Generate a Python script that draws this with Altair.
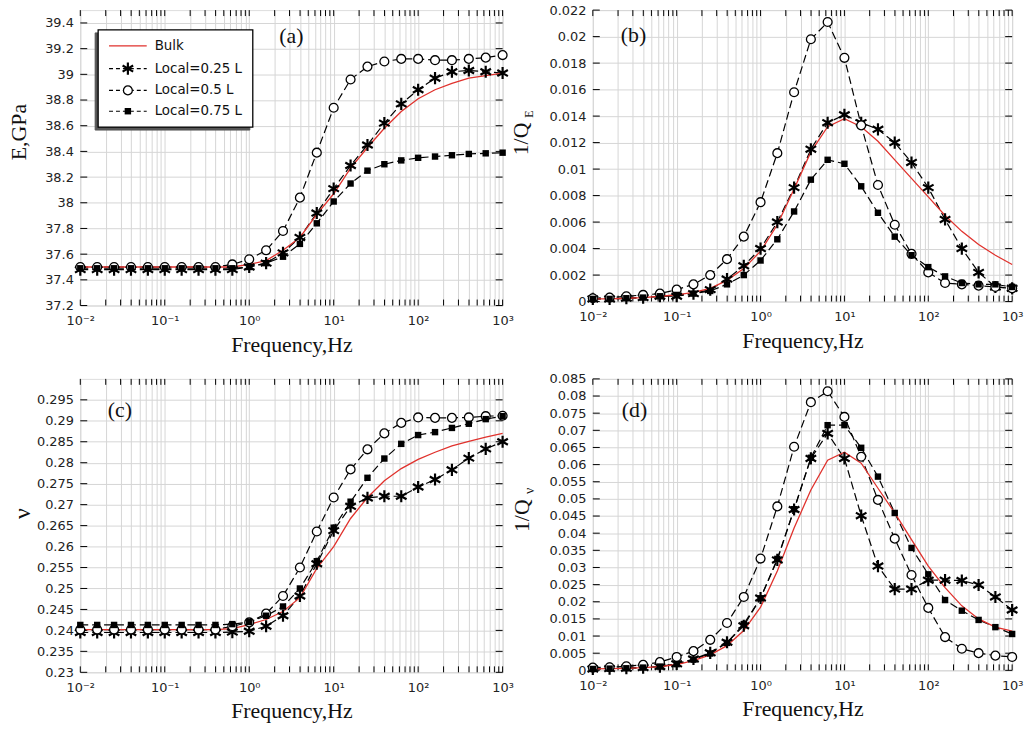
import altair as alt
import pandas as pd

FREQ = [0.01, 0.01585, 0.02512, 0.03981, 0.0631, 0.1, 0.1585, 0.2512, 0.3981, 0.631,
        1.0, 1.585, 2.512, 3.981, 6.31, 10.0, 15.85, 25.12, 39.81, 63.1,
        100.0, 158.5, 251.2, 398.1, 631.0, 1000.0]

# (a) E, GPa
E_BULK = [37.50, 37.50, 37.50, 37.50, 37.50, 37.50, 37.50, 37.50, 37.50, 37.50,
          37.52, 37.55, 37.63, 37.73, 37.91, 38.07, 38.27, 38.43, 38.58, 38.71,
          38.81, 38.88, 38.93, 38.97, 38.99, 39.01]
E_025 = [37.48, 37.48, 37.48, 37.48, 37.48, 37.48, 37.48, 37.48, 37.48, 37.48,
         37.50, 37.53, 37.61, 37.73, 37.92, 38.11, 38.29, 38.45, 38.62, 38.77,
         38.88, 38.97, 39.02, 39.03, 39.02, 39.01]
E_05 = [37.50, 37.50, 37.50, 37.50, 37.50, 37.50, 37.50, 37.50, 37.50, 37.52,
        37.56, 37.63, 37.78, 38.04, 38.39, 38.74, 38.96, 39.06, 39.10, 39.12,
        39.12, 39.11, 39.11, 39.12, 39.13, 39.15]
E_075 = [37.49, 37.49, 37.49, 37.49, 37.49, 37.49, 37.49, 37.49, 37.49, 37.49,
         37.50, 37.53, 37.58, 37.68, 37.84, 38.01, 38.15, 38.25, 38.30, 38.33,
         38.35, 38.36, 38.37, 38.38, 38.385, 38.39]

# (b) 1/Q_E
QE_BULK = [0.0002, 0.0002, 0.00025, 0.0003, 0.0004, 0.0005, 0.0007, 0.0010, 0.0016, 0.0025,
           0.0038, 0.0058, 0.0085, 0.0113, 0.0132, 0.0138, 0.0132, 0.0121, 0.0107, 0.0093,
           0.0079, 0.0065, 0.0053, 0.0043, 0.0035, 0.0028]
QE_025 = [0.0002, 0.0002, 0.00025, 0.0003, 0.0004, 0.0004, 0.0006, 0.0009, 0.0017, 0.0027,
          0.0040, 0.0060, 0.0086, 0.0115, 0.0135, 0.0141, 0.0135, 0.0130, 0.0120, 0.0105,
          0.0086, 0.0062, 0.0040, 0.0022, 0.0011, 0.0010]
QE_05 = [0.00025, 0.0003, 0.0004, 0.0005, 0.0006, 0.0009, 0.0013, 0.0020, 0.0032, 0.0049,
         0.0075, 0.0112, 0.0158, 0.0198, 0.0211, 0.0184, 0.0133, 0.0088, 0.0058, 0.0036,
         0.0022, 0.0014, 0.0013, 0.0012, 0.0011, 0.0010]
QE_075 = [0.0002, 0.0002, 0.00025, 0.0003, 0.0004, 0.0005, 0.0006, 0.0008, 0.0013, 0.0020,
          0.0031, 0.0047, 0.0068, 0.0092, 0.0107, 0.0104, 0.0087, 0.0067, 0.0049, 0.0035,
          0.0026, 0.0019, 0.0014, 0.0013, 0.0013, 0.0011]

# (c) nu
NU_BULK = [0.2402, 0.2402, 0.2402, 0.2402, 0.2402, 0.2402, 0.2402, 0.2402, 0.2402, 0.2404,
           0.2414, 0.2426, 0.2445, 0.2478, 0.2548, 0.2600, 0.2667, 0.2717, 0.2757, 0.2786,
           0.2808, 0.2825, 0.2840, 0.2851, 0.2861, 0.2870]
NU_025 = [0.2395, 0.2395, 0.2395, 0.2395, 0.2395, 0.2395, 0.2395, 0.2395, 0.2395, 0.2396,
          0.2398, 0.2410, 0.2435, 0.2482, 0.2559, 0.2638, 0.2696, 0.2716, 0.2720, 0.2720,
          0.2742, 0.2760, 0.2783, 0.2811, 0.2833, 0.2850]
NU_05 = [0.2402, 0.2402, 0.2402, 0.2402, 0.2402, 0.2402, 0.2402, 0.2402, 0.2402, 0.2410,
         0.2419, 0.2440, 0.2482, 0.2550, 0.2636, 0.2717, 0.2784, 0.2832, 0.2870, 0.2895,
         0.2908, 0.2907, 0.2907, 0.2908, 0.2911, 0.2912]
NU_075 = [0.2413, 0.2413, 0.2413, 0.2413, 0.2413, 0.2413, 0.2413, 0.2413, 0.2413, 0.2415,
          0.2420, 0.2435, 0.2457, 0.2500, 0.2565, 0.2645, 0.2707, 0.2764, 0.2810, 0.2845,
          0.2866, 0.2873, 0.2883, 0.2893, 0.2904, 0.2911]

# (d) 1/Q_nu
QV_BULK = [0.0004, 0.0005, 0.0006, 0.0008, 0.0011, 0.0017, 0.0028, 0.0045, 0.0072, 0.0116,
           0.0184, 0.0290, 0.0415, 0.0526, 0.0613, 0.0636, 0.0604, 0.0531, 0.0459, 0.0381,
           0.0304, 0.0241, 0.0188, 0.0150, 0.0126, 0.0114]
QV_025 = [0.0004, 0.0005, 0.0006, 0.0008, 0.0011, 0.0019, 0.0033, 0.0051, 0.0082, 0.0130,
          0.0211, 0.0322, 0.0469, 0.0618, 0.0691, 0.0618, 0.0451, 0.0304, 0.0237, 0.0237,
          0.0263, 0.0263, 0.0262, 0.0249, 0.0214, 0.0176]
QV_05 = [0.0008, 0.0009, 0.0012, 0.0016, 0.0024, 0.0039, 0.0056, 0.0089, 0.0138, 0.0214,
         0.0326, 0.0478, 0.0652, 0.0782, 0.0814, 0.0739, 0.0623, 0.0497, 0.0384, 0.0278,
         0.0182, 0.0097, 0.0063, 0.0050, 0.0043, 0.0039]
QV_075 = [0.0004, 0.0005, 0.0006, 0.0008, 0.0011, 0.0018, 0.0031, 0.0049, 0.0080, 0.0135,
          0.0210, 0.0325, 0.0470, 0.0620, 0.0715, 0.0715, 0.0649, 0.0565, 0.0459, 0.0357,
          0.0280, 0.0205, 0.0174, 0.0147, 0.0126, 0.0106]

SERIES = ["Bulk", "Local=0.25 L", "Local=0.5 L", "Local=0.75 L"]

YT_A = [37.2, 37.4, 37.6, 37.8, 38.0, 38.2, 38.4, 38.6, 38.8, 39.0, 39.2, 39.4]
YT_B = [0, 0.002, 0.004, 0.006, 0.008, 0.01, 0.012, 0.014, 0.016, 0.018, 0.02, 0.022]
YT_C = [0.23, 0.235, 0.24, 0.245, 0.25, 0.255, 0.26, 0.265, 0.27, 0.275, 0.28, 0.285, 0.29, 0.295]
YT_D = [0, 0.005, 0.01, 0.015, 0.02, 0.025, 0.03, 0.035, 0.04, 0.045, 0.05, 0.055,
        0.06, 0.065, 0.07, 0.075, 0.08, 0.085]

XTICKS = [m * 10.0 ** e for e in range(-2, 3) for m in range(1, 10)] + [1000.0]
X_LABEL_EXPR = ("abs(log(datum.value)/LN10 - round(log(datum.value)/LN10)) > 0.01 ? '' : "
                "['10⁻²','10⁻¹','10⁰','10¹','10²','10³'][round(log(datum.value)/LN10)+2]")

RED = "#e0312c"
STAR = "M0,-1L0,1M-0.87,-0.5L0.87,0.5M-0.87,0.5L0.87,-0.5"
SERIF = "Liberation Serif"
SANS = "DejaVu Sans"
GRID = "#d6d6d6"


def one():
    return pd.DataFrame({"a": [0]})


def text_at(txt, x, y, size=22, font=SERIF, angle=None, align="center"):
    kw = dict(font=font, fontSize=size, color="#111", align=align, baseline="middle")
    if angle is not None:
        kw["angle"] = angle
    return alt.Chart(one()).mark_text(**kw).encode(
        x=alt.value(x), y=alt.value(y), text=alt.value(txt))


def star_mark():
    return dict(shape=STAR, filled=False, color="black", strokeWidth=2.2, size=150, opacity=1)


def circle_mark():
    return dict(shape="circle", filled=True, fill="white", stroke="black", strokeWidth=1.3,
                size=80, opacity=1)


def square_mark():
    return dict(shape="square", filled=True, color="black", size=42, opacity=1)


def panel(vals, ydom, yticks, w, h, plabel, pxy, titles, legend=False):
    xs = alt.Scale(type="log", domain=[0.01, 1000], nice=False)
    ys = alt.Scale(domain=ydom, nice=False, zero=False)
    xa = alt.Axis(values=XTICKS, labelExpr=X_LABEL_EXPR, grid=True, gridColor=GRID,
                  gridWidth=1, ticks=False, domain=False, title="Frequency,Hz",
                  titleFont=SERIF, titleFontSize=22, titleFontWeight="normal",
                  titleColor="#111", titlePadding=7, labelFont=SANS, labelFontSize=13,
                  labelColor="#222", labelPadding=9, labelFlush=False, labelOverlap=False)
    ya = alt.Axis(values=yticks, format="~g", grid=True, gridColor=GRID, gridWidth=1,
                  ticks=False, domain=False, title=None, labelFont=SANS, labelFontSize=13,
                  labelColor="#222", labelPadding=7, labelFlush=False, labelOverlap=False)
    X = alt.X("f:Q", scale=xs, axis=xa)
    Y = alt.Y("v:Q", scale=ys, axis=ya)

    frames = {}
    for name, arr in zip(SERIES, vals):
        frames[name] = pd.DataFrame({"f": FREQ, "v": arr, "s": name})
    black = pd.concat([frames[n] for n in SERIES[1:]], ignore_index=True)

    layers = []
    xt = pd.DataFrame({"f": XTICKS})
    yt = pd.DataFrame({"v": yticks})
    layers.append(alt.Chart(xt).mark_rule(color="black", strokeWidth=1).encode(
        x=X, y=alt.value(0), y2=alt.value(6)))
    layers.append(alt.Chart(xt).mark_rule(color="black", strokeWidth=1).encode(
        x=X, y=alt.value(h), y2=alt.value(h - 6)))
    layers.append(alt.Chart(yt).mark_rule(color="black", strokeWidth=1).encode(
        y=Y, x=alt.value(0), x2=alt.value(7)))
    layers.append(alt.Chart(yt).mark_rule(color="black", strokeWidth=1).encode(
        y=Y, x=alt.value(w), x2=alt.value(w - 7)))

    layers.append(alt.Chart(black).mark_line(color="black", strokeDash=[8, 4],
                                             strokeWidth=1.2).encode(x=X, y=Y, detail="s:N"))
    layers.append(alt.Chart(frames["Bulk"]).mark_line(color=RED, strokeWidth=1.3).encode(x=X, y=Y))
    layers.append(alt.Chart(frames[SERIES[1]]).mark_point(**star_mark()).encode(x=X, y=Y))
    layers.append(alt.Chart(frames[SERIES[2]]).mark_point(**circle_mark()).encode(x=X, y=Y))
    layers.append(alt.Chart(frames[SERIES[3]]).mark_point(**square_mark()).encode(x=X, y=Y))

    layers.append(text_at(plabel, pxy[0], pxy[1]))
    for (txt, tx, ty, sz) in titles:
        layers.append(text_at(txt, tx, ty, size=sz, angle=270))

    if legend:
        bx0, bx1, by0, by1 = 18, 174, 20, 118
        layers.append(alt.Chart(one()).mark_rect(fill="#555", stroke="#555").encode(
            x=alt.value(bx0 - 3), x2=alt.value(bx1 - 3), y=alt.value(by0 + 3), y2=alt.value(by1 + 3)))
        layers.append(alt.Chart(one()).mark_rect(fill="white", stroke="black", strokeWidth=1.3).encode(
            x=alt.value(bx0), x2=alt.value(bx1), y=alt.value(by0), y2=alt.value(by1)))
        ly = [36, 59, 81, 102]
        layers.append(alt.Chart(one()).mark_rule(color=RED, strokeWidth=1.3).encode(
            x=alt.value(29), x2=alt.value(67), y=alt.value(ly[0])))
        for yy in ly[1:]:
            layers.append(alt.Chart(one()).mark_rule(color="black", strokeWidth=1.2,
                                                     strokeDash=[4, 3]).encode(
                x=alt.value(29), x2=alt.value(67), y=alt.value(yy)))
        layers.append(alt.Chart(one()).mark_point(**star_mark()).encode(
            x=alt.value(48), y=alt.value(ly[1])))
        layers.append(alt.Chart(one()).mark_point(**circle_mark()).encode(
            x=alt.value(48), y=alt.value(ly[2])))
        layers.append(alt.Chart(one()).mark_point(**square_mark()).encode(
            x=alt.value(48), y=alt.value(ly[3])))
        for name, yy in zip(SERIES, ly):
            layers.append(text_at(name, 75, yy, size=13.5, font=SANS, align="left"))

    return alt.layer(*layers).properties(width=w, height=h)


pa = panel([E_BULK, E_025, E_05, E_075], [37.2, 39.5], YT_A, 426, 298, "(a)", (213, 26),
           [("E,GPa", -62, 123, 22)], legend=True)
pb = panel([QE_BULK, QE_025, QE_05, QE_075], [0, 0.022], YT_B, 423, 294, "(b)", (41, 25),
           [("1/Q", -72, 130, 22), ("E", -64, 105, 12)])
pc = panel([NU_BULK, NU_025, NU_05, NU_075], [0.23, 0.30], YT_C, 426, 296, "(c)", (40, 31),
           [("ν", -58, 136, 24)])
pd_ = panel([QV_BULK, QV_025, QV_05, QV_075], [0, 0.085], YT_D, 423, 294, "(d)", (42, 31),
            [("1/Q", -71, 138, 22), ("ν", -63, 113, 14)])

chart = alt.concat(pa, pb, pc, pd_, columns=2, spacing={"row": 74, "column": 91},
                   bounds="flush").properties(
    padding={"left": 7, "top": 0, "right": 5, "bottom": 5}
).configure_view(stroke="black", strokeWidth=1.5).configure(background="white")

chart.save("out.html", embed_options={"renderer": "svg", "actions": False})
